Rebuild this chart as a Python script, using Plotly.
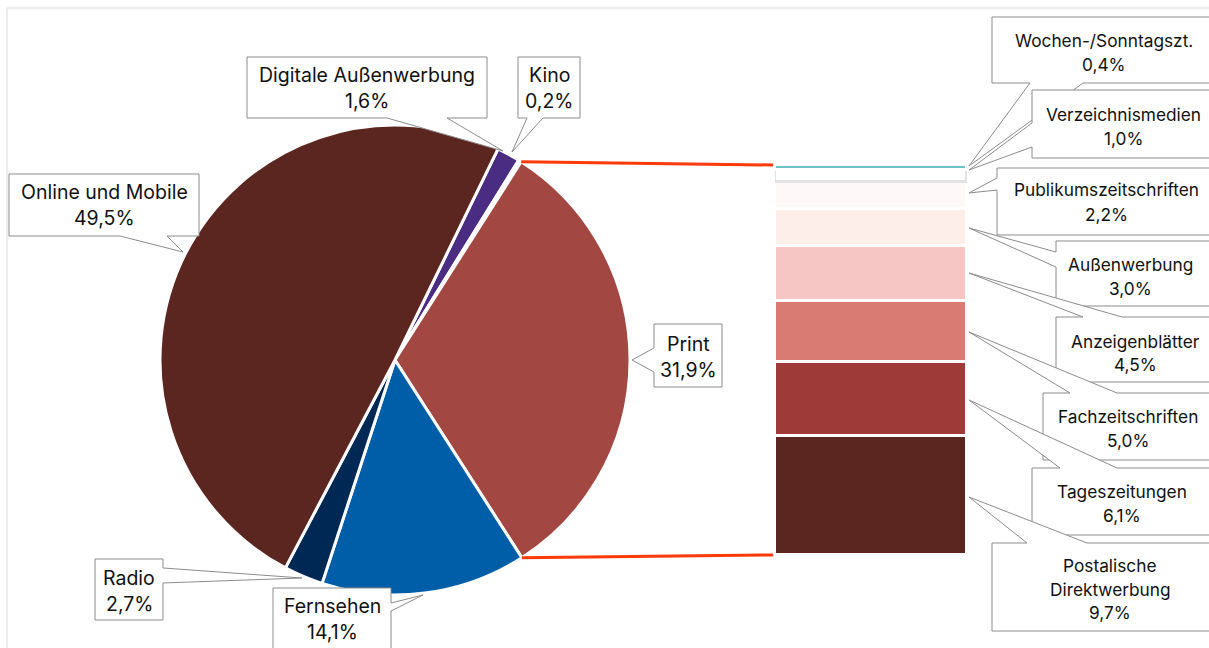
import plotly.graph_objects as go
import numpy as np

W, H = 1209, 648

# ---------------- data ----------------
pie_labels = ["Digitale Außenwerbung", "Kino", "Print", "Fernsehen", "Radio", "Online und Mobile"]
pie_values = [1.6, 0.2, 31.9, 14.1, 2.7, 49.5]
pie_colors = ["#4B2C83", "#8FA9D6", "#A24742", "#005EA8", "#002855", "#5C2620"]

bar_labels = ["Postalische Direktwerbung", "Tageszeitungen", "Fachzeitschriften", "Anzeigenblätter",
              "Außenwerbung", "Publikumszeitschriften", "Verzeichnismedien", "Wochen-/Sonntagszt."]
bar_values = [9.7, 6.1, 5.0, 4.5, 3.0, 2.2, 1.0, 0.4]
bar_colors = ["#5C2620", "#9E3A37", "#D97A73", "#F5C6C4", "#FDEEE9", "#FEF8F8", "#FFFFFF", "#6EC3C6"]
bar_line_colors = ["#FFFFFF"] * 6 + ["#E2E2E2", "#FFFFFF"]

ROTATION = 26  # degrees, clockwise from 12 o'clock


def fmt(v):
    return f"{v:.1f}".replace(".", ",") + "%"


def px(x):
    return x / W


def py(y):
    return 1 - y / H


# ---------------- layout geometry (pixels) ----------------
pie_box = (160, 125, 630, 595)   # x0, y0, x1, y1
bar_box = (775, 165, 967, 555)

fig = go.Figure()

fig.add_trace(go.Pie(
    labels=pie_labels, values=pie_values, sort=False, direction="clockwise",
    rotation=ROTATION, textinfo="none", hoverinfo="label+percent",
    marker=dict(colors=pie_colors, line=dict(color="#FFFFFF", width=3)),
    domain=dict(x=[px(pie_box[0]), px(pie_box[2])], y=[py(pie_box[3]), py(pie_box[1])]),
    showlegend=False,
))

for lab, val, col, lcol in zip(bar_labels, bar_values, bar_colors, bar_line_colors):
    fig.add_trace(go.Bar(
        x=["Print"], y=[val], name=lab, width=1,
        marker=dict(color=col, line=dict(color=lcol, width=3)),
        showlegend=False, hoverinfo="name+y",
    ))

bar_total = float(np.sum(bar_values))

fig.update_layout(
    width=W, height=H, margin=dict(l=0, r=0, t=0, b=0),
    paper_bgcolor="white", plot_bgcolor="rgba(0,0,0,0)",
    barmode="stack", bargap=0,
    xaxis=dict(domain=[px(bar_box[0]), px(bar_box[2])], range=[-0.5, 0.5], visible=False, fixedrange=True),
    yaxis=dict(domain=[py(bar_box[3]), py(bar_box[1])], range=[0, bar_total], visible=False, fixedrange=True),
    font=dict(family="Inter, Roboto, sans-serif", color="#111111"),
)

shapes = []
# outer chart-area frame
shapes.append(dict(type="rect", xref="paper", yref="paper", x0=px(7), x1=px(1240), y0=py(680), y1=py(8),
                   line=dict(color="#D9D9D9", width=1), fillcolor="rgba(0,0,0,0)", layer="below"))

# connector lines from pie "Print" slice to bar
cx = (pie_box[0] + pie_box[2]) / 2
cy = (pie_box[1] + pie_box[3]) / 2
r = (pie_box[2] - pie_box[0]) / 2
tot = float(np.sum(pie_values))
cum = np.cumsum([0] + pie_values)
i_print = pie_labels.index("Print")
a_start = np.radians(ROTATION + cum[i_print] / tot * 360)
a_end = np.radians(ROTATION + cum[i_print + 1] / tot * 360)
p1 = (cx + r * np.sin(a_start), cy - r * np.cos(a_start))
p2 = (cx + r * np.sin(a_end), cy - r * np.cos(a_end))
for (sx, sy), (ex, ey) in [(p1, (bar_box[0] - 2, bar_box[1])), (p2, (bar_box[0] - 2, bar_box[3]))]:
    shapes.append(dict(type="line", xref="paper", yref="paper", x0=px(sx), y0=py(sy), x1=px(ex), y1=py(ey),
                       line=dict(color="#FF3A0A", width=3), layer="above"))


def callout_path(box, side, a, b, tip):
    x0, y0, x1, y1 = box
    if side == "bottom":
        pts = [(x0, y0), (x1, y0), (x1, y1), (b, y1), tip, (a, y1), (x0, y1)]
    elif side == "top":
        pts = [(x0, y0), (a, y0), tip, (b, y0), (x1, y0), (x1, y1), (x0, y1)]
    elif side == "left":
        pts = [(x0, y0), (x1, y0), (x1, y1), (x0, y1), (x0, b), tip, (x0, a)]
    else:
        pts = [(x0, y0), (x1, y0), (x1, a), tip, (x1, b), (x1, y1), (x0, y1)]
    return "M " + " L ".join(f"{px(x):.5f},{py(y):.5f}" for x, y in pts) + " Z"


# callout geometry: box, wedge side, wedge base, tip, text centre x, text line ys
pie_callouts = {
    "Online und Mobile": ((9, 174, 199, 236), "bottom", 120, 167, (183, 252), 104, [192, 218]),
    "Digitale Außenwerbung": ((247, 57, 487, 118), "bottom", 387, 447, (503, 151), 367, [75, 101]),
    "Kino": ((518, 57, 580, 118), "bottom", 527, 543, (512, 152), 549, [75, 101]),
    "Print": ((654, 324, 722, 387), "left", 348, 372, (632, 360), 688, [344, 370]),
    "Fernsehen": ((273, 588, 391, 662), "right", 603, 611, (423, 595), 332, [606, 632]),
    "Radio": ((95, 559, 163, 620), "right", 568, 583, (302, 578), 129, [578, 604]),
}
bar_callouts = {
    "Wochen-/Sonntagszt.": ((992, 17, 1222, 83), "bottom", 1030, 1083, (969, 166), 1104, [40, 64]),
    "Verzeichnismedien": ((1032, 90, 1222, 158), "left", 123, 147, (969, 170), 1123, [114, 138]),
    "Publikumszeitschriften": ((997, 168, 1222, 235), "left", 178, 190, (969, 193), 1106, [190, 214]),
    "Außenwerbung": ((1056, 241, 1222, 306), "left", 252, 267, (969, 228), 1130, [265, 288]),
    "Anzeigenblätter": ((1056, 317, 1222, 382), "top", 1083, 1122, (969, 273), 1135, [341, 364]),
    "Fachzeitschriften": ((1043, 393, 1222, 460), "top", 1070, 1117, (969, 332), 1128, [416, 440]),
    "Tageszeitungen": ((1032, 468, 1222, 535), "top", 1060, 1117, (969, 400), 1122, [491, 515]),
    "Postalische Direktwerbung": ((992, 543, 1222, 631), "top", 1027, 1087, (969, 497), 1110, [565, 589, 612]),
}

annotations = []


def add_callout(name, value, geom, size):
    box, side, a, b, tip, tx, ys = geom
    shapes.append(dict(type="path", xref="paper", yref="paper", path=callout_path(box, side, a, b, tip),
                       fillcolor="white", line=dict(color="#8C8C8C", width=1), layer="above"))
    lines = name.split(" ") if len(ys) == 3 else [name]
    lines = lines + [fmt(value)]
    for txt, y in zip(lines, ys):
        annotations.append(dict(x=px(tx), y=py(y), xref="paper", yref="paper", text=txt, showarrow=False,
                                xanchor="center", yanchor="middle",
                                font=dict(size=size, family="Inter, Roboto, sans-serif", color="#111111")))


for lab, val in zip(pie_labels, pie_values):
    add_callout(lab, val, pie_callouts[lab], 19.5)

order = ["Wochen-/Sonntagszt.", "Verzeichnismedien", "Publikumszeitschriften", "Außenwerbung",
         "Anzeigenblätter", "Fachzeitschriften", "Tageszeitungen", "Postalische Direktwerbung"]
for lab in order:
    add_callout(lab, bar_values[bar_labels.index(lab)], bar_callouts[lab], 17.3)

fig.update_layout(shapes=shapes, annotations=annotations)

fig.write_html("out.html", config={"displayModeBar": False},
               post_script="document.body.style.margin='0';document.body.style.overflow='hidden';")
